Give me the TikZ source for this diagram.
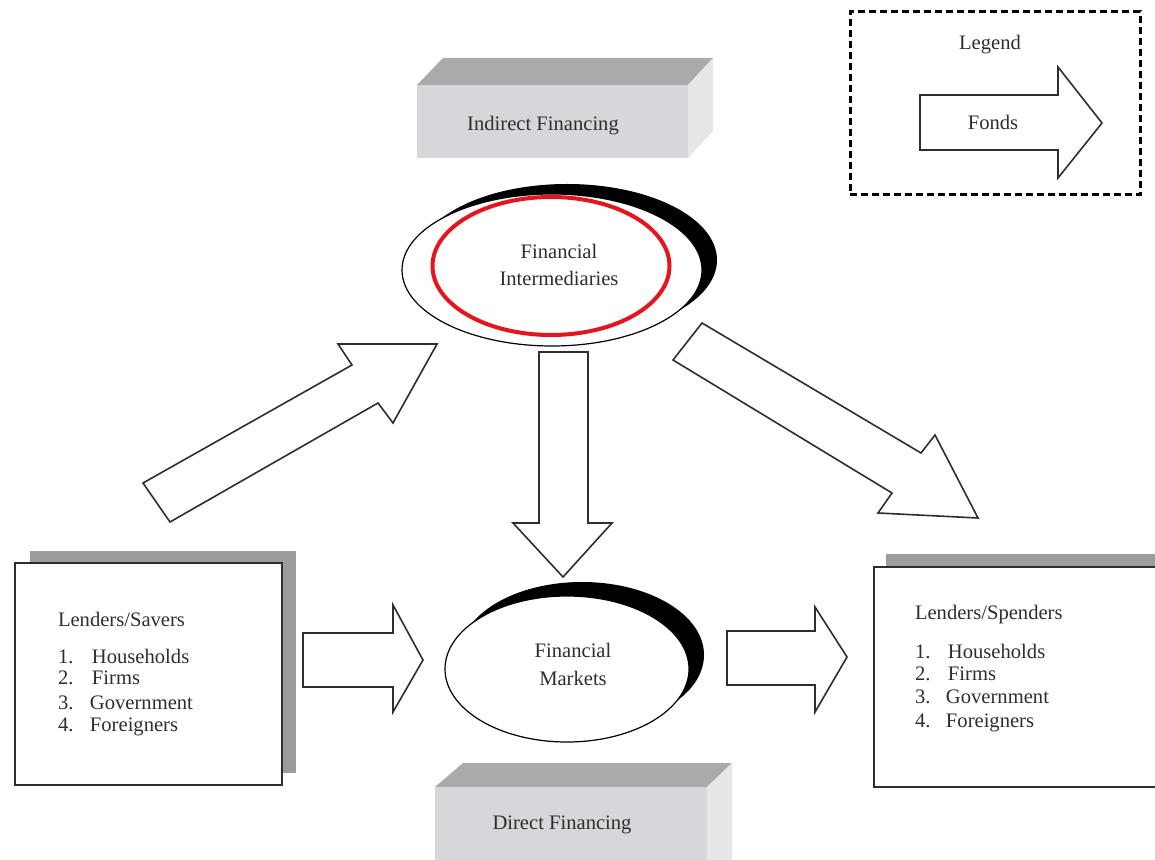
\documentclass[tikz,border=0pt]{standalone}
\usepackage{fontspec}
\setmainfont{Liberation Serif}
\usetikzlibrary{shapes.geometric}
\definecolor{facefront}{HTML}{D5D7DA}
\definecolor{facetop}{HTML}{A9AAAC}
\definecolor{faceside}{HTML}{E6E7E9}
\definecolor{shadowgray}{HTML}{9C9C9C}
\definecolor{ringred}{HTML}{E8141B}
\definecolor{inkgray}{HTML}{2E2E2E}
\begin{document}
\begin{tikzpicture}[x=0.5pt,y=-0.5pt,
  txt/.style={inner sep=0pt, outer sep=0pt, font=\fontsize{10.3}{11.5}\selectfont, text=inkgray},
  blockarrow/.style={draw=inkgray, line width=0.8pt, fill=white, line join=miter},
  frontbox/.style={rectangle, draw=inkgray, line width=0.9pt, fill=white, inner sep=0pt},
  shadowfill/.style={fill=shadowgray},
  ovalshadow/.style={ellipse, fill=black, inner sep=0pt},
  ovalface/.style={ellipse, draw=black, line width=0.6pt, fill=white, inner sep=0pt},
  facebox/.style={rectangle, fill=facefront, inner sep=0pt},
  legendframe/.style={rectangle, draw=black, line width=1.5pt, dash pattern=on 3.5pt off 2pt, inner sep=0pt}]
\useasboundingbox (0,0) rectangle (1155,860);
\clip (0,0) rectangle (1155,860);

% Legend
\node (legend) [legendframe, minimum width=145pt, minimum height=91.5pt] at (995,103.5) {};
\node (legendtitle) [txt, anchor=base] at (990,50) {Legend};
\draw[blockarrow] (920,95) -- (1058,95) -- (1058,67) -- (1102,123) -- (1058,178) -- (1058,150) -- (920,150) -- cycle;
\node (fonds) [txt, anchor=base] at (993,130) {Fonds};

% Indirect Financing block
\fill[facetop] (417,85) -- (443,58) -- (713,58) -- (688,85) -- cycle;
\fill[faceside] (688,85) -- (713,58) -- (713,131) -- (688,158) -- cycle;
\node (indirect) [facebox, minimum width=135.5pt, minimum height=36.5pt] at (552.5,121.5) {};
\node (indirectlabel) [txt, anchor=base] at (543,131) {Indirect Financing};

% Financial Intermediaries
\node (fishadow) [ovalshadow, minimum width=150pt, minimum height=76pt] at (567,260) {};
\node (fi) [ovalface, minimum width=150pt, minimum height=76pt] at (552,270) {};
\node (fired) [ellipse, draw=ringred, line width=2pt, inner sep=0pt, minimum width=118.5pt, minimum height=69pt] at (551,266) {};
\node (filab1) [txt, anchor=base] at (559,259) {Financial};
\node (filab2) [txt, anchor=base] at (559,286) {Intermediaries};

% Block arrows
\draw[blockarrow] (143,483) -- (352,365) -- (338,344) -- (437,344) -- (393,423) -- (378,403) -- (170,522) -- cycle;
\draw[blockarrow] (539,352) -- (588,352) -- (588,523) -- (612,523) -- (563,577) -- (513,523) -- (539,523) -- cycle;
\draw[blockarrow] (673,360) -- (702,323) -- (921,453) -- (935,435) -- (978,518) -- (878,513) -- (892,493) -- cycle;
\draw[blockarrow] (303,633) -- (393,633) -- (393,605) -- (423,660) -- (393,712) -- (393,687) -- (303,687) -- cycle;
\draw[blockarrow] (727,631) -- (815,631) -- (815,607) -- (847,657) -- (815,712) -- (815,685) -- (727,685) -- cycle;

% Financial Markets
\node (fmshadow) [ovalshadow, minimum width=122pt, minimum height=73pt] at (582,655) {};
\node (fm) [ovalface, minimum width=122pt, minimum height=73pt] at (567,669) {};
\node (fmlab1) [txt, anchor=base] at (573,657) {Financial};
\node (fmlab2) [txt, anchor=base] at (573,685) {Markets};

% Lenders/Savers
\fill[shadowfill] (30,551) rectangle (296,773);
\node (savers) [frontbox, minimum width=133.5pt, minimum height=111pt] at (148.5,674) {};
\node (savtitle) [txt, anchor=base west] at (58,626) {Lenders/Savers};
\node (sav1) [txt, anchor=base west] at (58,663) {\makebox[17pt][l]{1.}Households};
\node (sav2) [txt, anchor=base west] at (58,684) {\makebox[17pt][l]{2.}Firms};
\node (sav3) [txt, anchor=base west] at (58,709) {\makebox[16pt][l]{3.}Government};
\node (sav4) [txt, anchor=base west] at (58,731) {\makebox[16pt][l]{4.}Foreigners};

% Lenders/Spenders
\fill[shadowfill] (886,554) rectangle (1180,780);
\node (spenders) [frontbox, minimum width=148pt, minimum height=110pt] at (1022,677) {};
\node (spetitle) [txt, anchor=base west] at (915,619) {Lenders/Spenders};
\node (spe1) [txt, anchor=base west] at (915,658) {\makebox[16.5pt][l]{1.}Households};
\node (spe2) [txt, anchor=base west] at (915,680) {\makebox[16.5pt][l]{2.}Firms};
\node (spe3) [txt, anchor=base west] at (915,703) {\makebox[15.5pt][l]{3.}Government};
\node (spe4) [txt, anchor=base west] at (915,727) {\makebox[15.5pt][l]{4.}Foreigners};

% Direct Financing block
\fill[facetop] (435,787) -- (463,763) -- (732,763) -- (707,787) -- cycle;
\fill[faceside] (707,787) -- (732,763) -- (732,870) -- (707,870) -- cycle;
\node (direct) [facebox, minimum width=136pt, minimum height=43pt] at (571,830) {};
\node (directlabel) [txt, anchor=base] at (562,829) {Direct Financing};
\end{tikzpicture}
\end{document}
